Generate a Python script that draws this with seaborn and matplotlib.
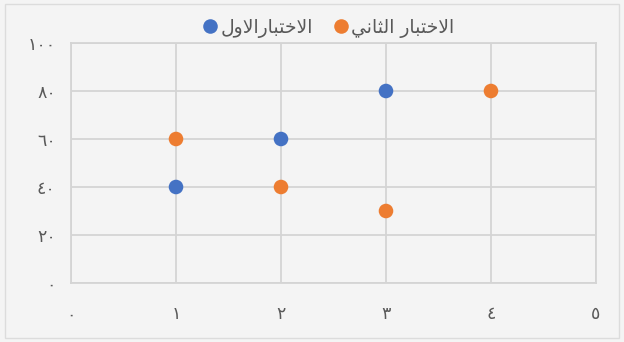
import matplotlib
matplotlib.use("Agg")
import matplotlib.pyplot as plt
from matplotlib.patches import Rectangle
import seaborn as sns
import pandas as pd

# Series data
series_names = ["الاختبارالاول", "الاختبار الثاني"]
first_x = [1, 2, 3]
first_y = [40, 60, 80]
second_x = [1, 2, 3, 4]
second_y = [60, 40, 30, 80]

x_ticks = [0, 1, 2, 3, 4, 5]
y_ticks = [0, 20, 40, 60, 80, 100]

colors = ["#4472C4", "#ED7D31"]

# Minimal Arabic shaping: pick contextual presentation forms, then reverse
# to visual order since matplotlib lays text out left to right.
FORMS = {
    "ا": (0xFE8D, 0xFE8E, None, None),
    "ب": (0xFE8F, 0xFE90, 0xFE91, 0xFE92),
    "ت": (0xFE95, 0xFE96, 0xFE97, 0xFE98),
    "ث": (0xFE99, 0xFE9A, 0xFE9B, 0xFE9C),
    "خ": (0xFEA5, 0xFEA6, 0xFEA7, 0xFEA8),
    "ر": (0xFEAD, 0xFEAE, None, None),
    "ل": (0xFEDD, 0xFEDE, 0xFEDF, 0xFEE0),
    "ن": (0xFEE5, 0xFEE6, 0xFEE7, 0xFEE8),
    "و": (0xFEED, 0xFEEE, None, None),
    "ي": (0xFEF1, 0xFEF2, 0xFEF3, 0xFEF4),
}


def shape_arabic(text):
    units = []
    i = 0
    while i < len(text):
        if text[i] == "ل" and i + 1 < len(text) and text[i + 1] == "ا":
            units.append("LA")
            i += 2
        else:
            units.append(text[i])
            i += 1

    def is_letter(u):
        return u == "LA" or u in FORMS

    def joins_forward(u):
        return u in FORMS and FORMS[u][2] is not None

    out = []
    for k, u in enumerate(units):
        prev_j = k > 0 and joins_forward(units[k - 1])
        if u == "LA":
            out.append(chr(0xFEFC if prev_j else 0xFEFB))
            continue
        if u not in FORMS:
            out.append(u)
            continue
        iso, fin, ini, med = FORMS[u]
        next_j = (joins_forward(u) and k + 1 < len(units)
                  and is_letter(units[k + 1]))
        if prev_j and next_j:
            g = med
        elif prev_j:
            g = fin
        elif next_j:
            g = ini
        else:
            g = iso
        out.append(chr(g))
    return "".join(out)[::-1]


def arabic_digits(n):
    return "".join(chr(0x0660 + int(d)) for d in str(n))


df = pd.DataFrame({
    "x": first_x + second_x,
    "y": first_y + second_y,
    "series": [shape_arabic(series_names[0])] * len(first_x)
    + [shape_arabic(series_names[1])] * len(second_x),
})

sns.set_theme(style="whitegrid")
plt.rcParams["font.family"] = ["DejaVu Sans"]

bg = "#f4f4f4"
grid_c = "#d4d4d4"
text_c = "#595959"

fig = plt.figure(figsize=(6.24, 3.42), dpi=100, facecolor=bg)
ax = fig.add_axes([0.1138, 0.1725, 0.8413, 0.7018])
ax.set_facecolor(bg)

sns.scatterplot(data=df, x="x", y="y", hue="series", palette=colors,
                s=110, linewidth=0, ax=ax, zorder=3, legend=True)

ax.set_xlim(0, 5)
ax.set_ylim(0, 100)
ax.set_xticks(x_ticks)
ax.set_yticks(y_ticks)
ax.set_xticklabels([arabic_digits(v) for v in x_ticks])
ax.set_yticklabels([arabic_digits(v) for v in y_ticks])
ax.tick_params(axis="x", length=0, pad=16, labelsize=12.5, colors=text_c)
ax.tick_params(axis="y", length=0, pad=11, labelsize=12.5, colors=text_c)
ax.set_xlabel("")
ax.set_ylabel("")
ax.grid(True, color=grid_c, linewidth=1.3)
for sp in ax.spines.values():
    sp.set_visible(True)
    sp.set_color(grid_c)
    sp.set_linewidth(1.3)

handles, labels = ax.get_legend_handles_labels()
ax.legend_.remove()
fig.legend(handles, labels, loc="center", bbox_to_anchor=(0.525, 0.918),
           ncol=2, frameon=False, fontsize=13.5, labelcolor=text_c,
           handletextpad=0.05, columnspacing=1.0, markerscale=1.0,
           handlelength=1.0)

# Light outer chart border
fig.patches.append(Rectangle((0.008, 0.012), 0.984, 0.976,
                             transform=fig.transFigure, fill=False,
                             edgecolor="#dcdcdc", linewidth=1.0))

fig.savefig("out.png", dpi=100, facecolor=bg)
